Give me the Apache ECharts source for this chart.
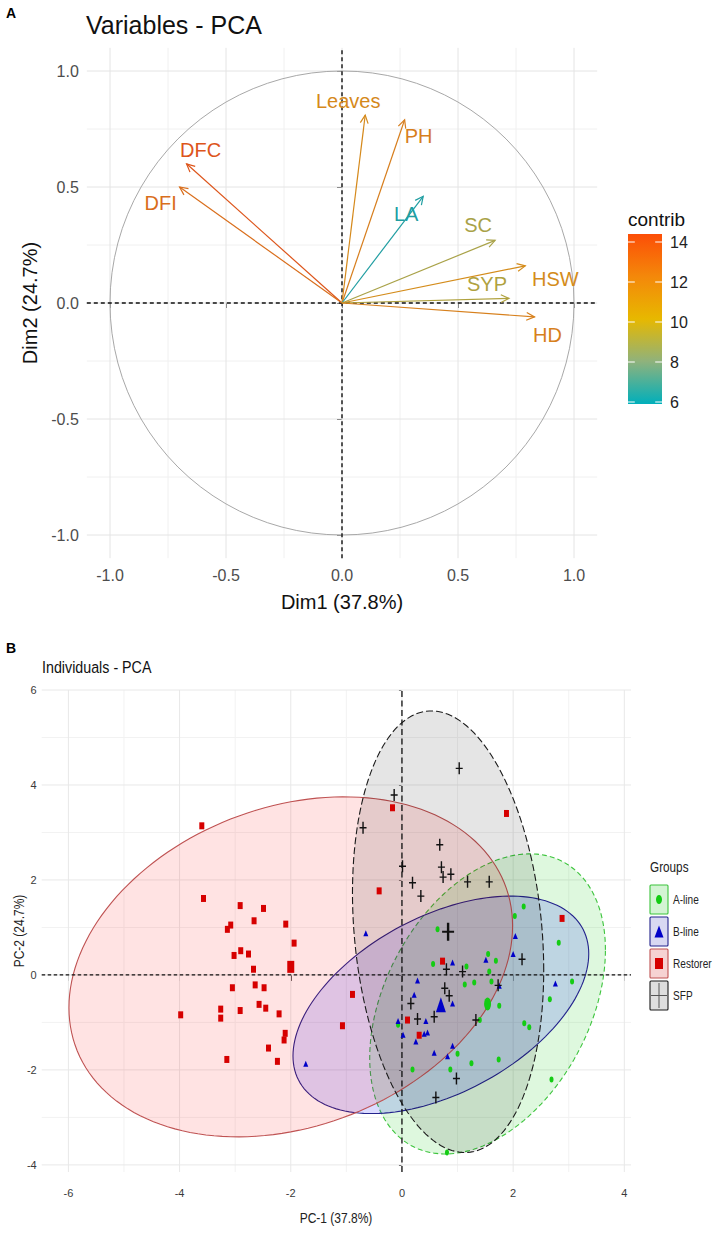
<!DOCTYPE html>
<html>
<head>
<meta charset="utf-8">
<script src="https://cdn.jsdelivr.net/npm/echarts@6/dist/echarts.min.js"></script>
<style>
html,body{margin:0;padding:0;background:#fff;}
#c{width:727px;height:1239px;}
</style>
</head>
<body>
<div id="c"></div>
<script>
// ---------------- DATA ----------------
// Panel A: variables
const varNames   = ['DFC', 'DFI', 'Leaves', 'PH', 'LA', 'SC', 'HSW', 'SYP', 'HD'];
const varDim1    = [-0.67, -0.70, 0.10, 0.27, 0.35, 0.66, 0.79, 0.72, 0.83];
const varDim2    = [0.60, 0.50, 0.81, 0.79, 0.46, 0.27, 0.16, 0.02, -0.06];
const varContrib = [14.4, 13.2, 11.8, 12.4, 5.9, 9.0, 11.6, 9.2, 12.3];
const dimTicks   = [-1, -0.5, 0, 0.5, 1];
const dimMinor   = [-0.75, -0.25, 0.25, 0.75];
const contribTicks = [6, 8, 10, 12, 14];

// Panel B: individuals
const groupNames = ['A-line', 'B-line', 'Restorer', 'SFP'];
const aLineX = [2.19, 2.03, 0.64, 2.82, 1.55, 1.69, 0.56, 1.16, 1.57, 1.13, 1.30, 1.61, 3.06, 1.75, 2.66, 2.20, 2.29, -0.07, 1.40, 1.00, 1.25, 1.74, 0.19, 0.87, 2.69, 0.81];
const aLineY = [1.44, 1.24, 0.96, 0.68, 0.44, 0.30, 0.23, 0.18, 0.07, -0.20, -0.16, -0.14, -0.14, -0.65, -0.51, -1.02, -1.10, -1.05, -0.95, -1.66, -1.86, -1.78, -1.99, -1.99, -2.20, -3.74];
const bLineX = [-0.65, 2.04, 2.00, 0.91, 1.51, 0.28, 0.22, 1.75, 2.76, 0.91, 0.43, -0.07, 0.02, 0.40, 0.46, 0.25, 0.91, 0.58, 0.82, -1.73];
const bLineY = [0.88, 0.82, 0.44, 0.26, 0.32, -0.12, -0.42, -0.23, -0.18, -0.60, -0.97, -0.97, -1.26, -1.24, -1.21, -1.40, -1.49, -1.64, -1.71, -1.87];
const restorerX = [-3.60, -3.57, -2.91, -2.49, -2.66, -3.08, -3.14, -2.09, -1.94, -2.90, -3.02, -2.76, -2.67, -3.05, -2.64, -2.48, -2.57, -2.45, -2.91, -3.26, -3.26, -3.98, -2.21, -2.10, -2.12, -2.40, -3.15, -2.24, -0.89, -1.07, -0.41, -0.17, 1.88, 2.88, 0.73, 0.10, 0.31];
const restorerY = [3.14, 1.61, 1.46, 1.40, 1.14, 1.05, 0.96, 1.07, 0.67, 0.51, 0.41, 0.44, 0.12, -0.27, -0.21, -0.27, -0.62, -0.70, -0.75, -0.72, -0.91, -0.84, -0.82, -1.23, -1.37, -1.54, -1.78, -1.82, -0.41, -1.07, 1.77, 3.52, 3.40, 1.19, 0.29, -0.95, -1.27];
const sfpX = [1.03, -0.14, -0.70, 0.68, 0.01, 0.71, 0.74, 0.88, 0.19, 0.34, 1.18, 1.57, 0.80, 1.09, 1.73, 0.77, 0.85, 0.16, 0.58, 0.28, 1.33, 2.16, 0.98, 0.61];
const sfpY = [4.35, 3.79, 3.10, 2.74, 2.29, 2.27, 2.06, 2.12, 1.94, 1.66, 1.96, 1.96, 0.12, 0.07, -0.22, -0.28, -0.44, -0.60, -0.88, -0.93, -0.95, 0.33, -2.18, -2.58];
const groupMeanX = [1.54, 0.70, -2.00, 0.83];
const groupMeanY = [-0.61, -0.63, 0.17, 0.91];
const ellipseSdX = [2.12, 2.66, 3.99, 1.72];
const ellipseSdY = [3.16, 2.29, 3.58, 4.65];
const ellipseCor = [0.36, 0.47, 0.24, -0.175];
const pcXTicks = [-6, -4, -2, 0, 2, 4];
const pcXMinor = [-5, -3, -1, 1, 3];
const pcYTicks = [-4, -2, 0, 2, 4, 6];
const pcYMinor = [-3, -1, 1, 3, 5];

// ---------------- STYLE ----------------
const FONT = "'Liberation Sans', Arial, Helvetica, sans-serif";
const NARROW = "'Liberation Sans Narrow', 'Arial Narrow', 'Liberation Sans', sans-serif";
const contribColors = ['#00AFBB', '#8FB27C', '#E7B800', '#F4880A', '#FC4E07'];
const arrowMute = '#7F6A55';
const labelNudge = { DFC: [14, -14], DFI: [-19, 16], Leaves: [-17, -14], PH: [14, 16], LA: [-17, 18],
                     SC: [-17, -15], HSW: [30, 13], SYP: [-22, -14], HD: [13, 18] };
const groupX = [aLineX, bLineX, restorerX, sfpX];
const groupY = [aLineY, bLineY, restorerY, sfpY];
const ellFill = ['rgba(0,200,0,0.13)', 'rgba(0,0,255,0.14)', 'rgba(255,0,0,0.11)', 'rgba(0,0,0,0.10)'];
const ellStroke = ['#3DC43D', '#23238C', '#BF5252', '#1A1A1A'];
const ellDash = [[5, 3], null, null, [7, 3]];
const ptColor = ['#14CC14', '#0000C8', '#D60000', '#111111'];
const ELLIPSE_PATH = 'path://M1,0A1,1 0 1,1 -1,0A1,1 0 1,1 1,0Z';
const PLUS_PATH = 'path://M-0.2,-1H0.2V-0.12H1V0.12H0.2V1H-0.2V0.12H-1V-0.12H-0.2Z';
const ptSymbol = [ELLIPSE_PATH, 'triangle', 'rect', PLUS_PATH];
const ptSize = [[4, 6], [5, 6], [5, 7], [7, 12]];
const meanSize = [[7, 13], [10, 15], [7, 12], [12, 18]];
const SQ = 0.84; // horizontal condensing of panel B text

const A_X = [-1.1, 1.1], A_Y = [-1.1, 1.1];
const B_X = [-6.48, 4.12], B_Y = [-4.15, 6.0];
const cMin = Math.min.apply(null, varContrib), cMax = Math.max.apply(null, varContrib);

// ---------------- HELPERS ----------------
function vLines(ai, vals, yr, color, w, dash, z) {
  return { type: 'custom', xAxisIndex: ai, yAxisIndex: ai, z: z, silent: true, animation: false,
    data: vals.map(v => [v, yr[0]]),
    renderItem: (p, api) => {
      const a = api.coord([api.value(0), yr[0]]), b = api.coord([api.value(0), yr[1]]);
      return { type: 'line', shape: { x1: a[0], y1: a[1], x2: b[0], y2: b[1] },
        style: { stroke: color, lineWidth: w, lineDash: dash || null } };
    } };
}
function hLines(ai, vals, xr, color, w, dash, z) {
  return { type: 'custom', xAxisIndex: ai, yAxisIndex: ai, z: z, silent: true, animation: false,
    data: vals.map(v => [xr[0], v]),
    renderItem: (p, api) => {
      const a = api.coord([xr[0], api.value(1)]), b = api.coord([xr[1], api.value(1)]);
      return { type: 'line', shape: { x1: a[0], y1: a[1], x2: b[0], y2: b[1] },
        style: { stroke: color, lineWidth: w, lineDash: dash || null } };
    } };
}

const series = [];
// Panel A grid
series.push(vLines(0, dimMinor, A_Y, '#F0F0F0', 1, null, 1));
series.push(hLines(0, dimMinor, A_X, '#F0F0F0', 1, null, 1));
series.push(vLines(0, dimTicks, A_Y, '#E4E4E4', 1, null, 1));
series.push(hLines(0, dimTicks, A_X, '#E4E4E4', 1, null, 1));
// Correlation circle
series.push({ type: 'custom', xAxisIndex: 0, yAxisIndex: 0, z: 2, silent: true, animation: false,
  data: [[0, 0]],
  renderItem: (p, api) => {
    const c = api.coord([0, 0]), e = api.coord([1, 0]);
    return { type: 'circle', shape: { cx: c[0], cy: c[1], r: e[0] - c[0] },
      style: { stroke: '#A8A8A8', fill: 'none', lineWidth: 1 } };
  } });
series.push(vLines(0, [0], A_Y, '#111', 1.4, [4, 3], 3));
series.push(hLines(0, [0], A_X, '#111', 1.4, [4, 3], 3));
// Arrows
const ARROW_IDX = series.length;
series.push({ type: 'custom', xAxisIndex: 0, yAxisIndex: 0, z: 4, silent: true, animation: false,
  encode: { x: 0, y: 1 },
  data: varDim1.map((x, i) => [x, varDim2[i], varContrib[i]]),
  renderItem: (p, api) => {
    const o = api.coord([0, 0]), t = api.coord([api.value(0), api.value(1)]);
    const color = echarts.color.lerp(0.25, [api.visual('color'), arrowMute]);
    const ang = Math.atan2(t[1] - o[1], t[0] - o[0]);
    const L = 9, h = Math.PI / 7;
    const h1 = [t[0] - L * Math.cos(ang - h), t[1] - L * Math.sin(ang - h)];
    const h2 = [t[0] - L * Math.cos(ang + h), t[1] - L * Math.sin(ang + h)];
    const name = varNames[p.dataIndex];
    const off = labelNudge[name];
    return { type: 'group', children: [
      { type: 'line', shape: { x1: o[0], y1: o[1], x2: t[0], y2: t[1] }, style: { stroke: color, lineWidth: 1.2 } },
      { type: 'polyline', shape: { points: [h1, t, h2] }, style: { stroke: color, lineWidth: 1.2, fill: 'none' } },
      { type: 'text', x: t[0] + off[0], y: t[1] + off[1],
        style: { text: name, fill: color, fontSize: 20, fontFamily: FONT, align: 'center', verticalAlign: 'middle' } }
    ] };
  } });

// Panel B grid
series.push(vLines(1, pcXMinor, B_Y, '#F2F2F2', 1, null, 1));
series.push(hLines(1, pcYMinor, B_X, '#F2F2F2', 1, null, 1));
series.push(vLines(1, pcXTicks, B_Y, '#E8E8E8', 1, null, 1));
series.push(hLines(1, pcYTicks, B_X, '#E8E8E8', 1, null, 1));
// Ellipses
groupNames.forEach((g, gi) => {
  series.push({ type: 'custom', name: g, xAxisIndex: 1, yAxisIndex: 1, z: 2, silent: true, animation: false,
    data: [[groupMeanX[gi], groupMeanY[gi]]],
    renderItem: (p, api) => {
      const cx = groupMeanX[gi], cy = groupMeanY[gi];
      const sx = ellipseSdX[gi], sy = ellipseSdY[gi], r = ellipseCor[gi];
      const pts = [];
      for (let k = 0; k <= 160; k++) {
        const t = k / 160 * Math.PI * 2;
        const dx = sx * Math.cos(t);
        const dy = sy * (r * Math.cos(t) + Math.sqrt(1 - r * r) * Math.sin(t));
        pts.push(api.coord([cx + dx, cy + dy]));
      }
      return { type: 'polygon', shape: { points: pts },
        style: { fill: ellFill[gi], stroke: ellStroke[gi], lineWidth: 1.1, lineDash: ellDash[gi] } };
    } });
});
series.push(vLines(1, [0], B_Y, '#111', 1.3, [6, 3.5], 3));
series.push(hLines(1, [0], B_X, '#111', 1.3, [3.5, 2.5], 3));
// Points
groupNames.forEach((g, gi) => {
  series.push({ type: 'scatter', name: g, xAxisIndex: 1, yAxisIndex: 1, z: 4, silent: true, animation: false,
    symbol: ptSymbol[gi], symbolSize: ptSize[gi],
    itemStyle: { color: ptColor[gi], opacity: 1 },
    data: groupX[gi].map((x, i) => [x, groupY[gi][i]]) });
});
groupNames.forEach((g, gi) => {
  series.push({ type: 'scatter', name: g + ' mean', xAxisIndex: 1, yAxisIndex: 1, z: 5, silent: true, animation: false,
    symbol: ptSymbol[gi], symbolSize: meanSize[gi],
    itemStyle: { color: ptColor[gi], opacity: 1 },
    data: [[groupMeanX[gi], groupMeanY[gi]]] });
});

// Colorbar (contrib)
series.push({ type: 'custom', xAxisIndex: 2, yAxisIndex: 2, z: 2, silent: true, animation: false,
  data: [[0, cMin]],
  renderItem: (p, api) => {
    const a = api.coord([0, cMax]), b = api.coord([1, cMin]);
    const stops = contribColors.map((c, i) => ({ offset: i / (contribColors.length - 1), color: c }));
    const kids = [{ type: 'rect', shape: { x: a[0], y: a[1], width: b[0] - a[0], height: b[1] - a[1] },
      style: { fill: new echarts.graphic.LinearGradient(0, 1, 0, 0, stops) } }];
    const tl = (b[0] - a[0]) / 5;
    contribTicks.forEach(v => {
      const y = api.coord([0, v])[1];
      kids.push({ type: 'line', shape: { x1: a[0], y1: y, x2: a[0] + tl, y2: y }, style: { stroke: '#fff', lineWidth: 1 } });
      kids.push({ type: 'line', shape: { x1: b[0] - tl, y1: y, x2: b[0], y2: y }, style: { stroke: '#fff', lineWidth: 1 } });
    });
    return { type: 'group', children: kids };
  } });

// ---------------- AXES ----------------
function axisCommon(ticks, fmt, fontSize, fam, margin, tickLen, color) {
  return {
    axisLine: { show: false },
    axisTick: { show: true, customValues: ticks, length: tickLen, lineStyle: { color: '#333', width: 1 } },
    axisLabel: { show: true, customValues: ticks, formatter: fmt, fontSize: fontSize, fontFamily: fam, color: color, margin: margin },
    splitLine: { show: false }, minorSplitLine: { show: false }
  };
}
const fmt1 = v => Number(v).toFixed(1);
const fmt0 = v => String(Math.round(v));

const option = {
  backgroundColor: '#ffffff',
  animation: false,
  grid: [
    { left: 86.8, top: 47.8, width: 510.4, height: 510.4, containLabel: false, outerBoundsMode: 'none' },
    { left: 41.7, top: 690, width: 589.3, height: 482, containLabel: false, outerBoundsMode: 'none' },
    { left: 628, top: 234, width: 34, height: 170, containLabel: false, outerBoundsMode: 'none' }
  ],
  xAxis: [
    Object.assign({ type: 'value', gridIndex: 0, min: A_X[0], max: A_X[1],
      name: 'Dim1 (37.8%)', nameLocation: 'middle', nameGap: 34,
      nameTextStyle: { fontSize: 20, fontFamily: FONT, color: '#111' } }, axisCommon(dimTicks, fmt1, 16, FONT, 9, 5, '#4D4D4D')),
    Object.assign({ type: 'value', gridIndex: 1, min: B_X[0], max: B_X[1] },
      axisCommon(pcXTicks, fmt0, 11, NARROW, 15, 6, '#3A3A3A')),
    { type: 'value', gridIndex: 2, min: 0, max: 1, show: false }
  ],
  yAxis: [
    Object.assign({ type: 'value', gridIndex: 0, min: A_Y[0], max: A_Y[1],
      name: 'Dim2 (24.7%)', nameLocation: 'middle', nameGap: 45,
      nameTextStyle: { fontSize: 20, fontFamily: FONT, color: '#111' } }, axisCommon(dimTicks, fmt1, 16, FONT, 8, 5, '#4D4D4D')),
    Object.assign({ type: 'value', gridIndex: 1, min: B_Y[0], max: B_Y[1] },
      axisCommon(pcYTicks, fmt0, 11, NARROW, 5, 3, '#3A3A3A')),
    { type: 'value', gridIndex: 2, min: cMin, max: cMax, position: 'right',
      axisLine: { show: false }, axisTick: { show: false }, splitLine: { show: false },
      axisLabel: { show: true, customValues: contribTicks, fontSize: 16, fontFamily: FONT, color: '#222', margin: 8 } }
  ],
  visualMap: [{ type: 'continuous', show: false, seriesIndex: ARROW_IDX, dimension: 2,
    min: cMin, max: cMax, inRange: { color: contribColors } }],
  graphic: [
    { type: 'text', left: 6, top: 6, style: { text: 'A', fontSize: 14, fontWeight: 'bold', fontFamily: FONT, fill: '#000' } },
    { type: 'text', x: 86, y: 25, style: { text: 'Variables - PCA', fontSize: 25, fontFamily: FONT, fill: '#111', verticalAlign: 'middle' } },
    { type: 'text', x: 628, y: 219, style: { text: 'contrib', fontSize: 19, fontFamily: FONT, fill: '#111', verticalAlign: 'middle' } },
    { type: 'text', left: 6, top: 641, style: { text: 'B', fontSize: 14, fontWeight: 'bold', fontFamily: FONT, fill: '#000' } },
    { type: 'text', x: 42, y: 667, scaleX: SQ, style: { text: 'Individuals - PCA', fontSize: 17, fontFamily: NARROW, fill: '#111', verticalAlign: 'middle' } },
    { type: 'text', x: 336, y: 1218, scaleX: 0.8, style: { text: 'PC-1 (37.8%)', fontSize: 15, fontFamily: NARROW, fill: '#222', align: 'center', verticalAlign: 'middle' } },
    { type: 'text', x: 19, y: 931, rotation: Math.PI / 2, scaleX: 0.8, style: { text: 'PC-2 (24.7%)', fontSize: 15, fontFamily: NARROW, fill: '#222', align: 'center', verticalAlign: 'middle' } },
    { type: 'text', x: 650, y: 867, scaleX: SQ, style: { text: 'Groups', fontSize: 14, fontFamily: NARROW, fill: '#222', verticalAlign: 'middle' } }
  ],
  series: series
};

// Legend for groups (panel B)
const keyTop = [885, 917, 949, 981];
const keyFill = ['#D3F4D3', '#D8D8F2', '#F6D2D2', '#DEDEDE'];
groupNames.forEach((g, gi) => {
  const x = 650, y = keyTop[gi], w = 18, h = 29, cx = x + w / 2, cy = y + h / 2;
  option.graphic.push({ type: 'rect', shape: { x: x, y: y, width: w, height: h, r: 1 },
    style: { fill: keyFill[gi], stroke: ellStroke[gi], lineWidth: 1.1 } });
  let sym;
  if (gi === 0) sym = { type: 'ellipse', shape: { cx: cx, cy: cy, rx: 3, ry: 4.5 }, style: { fill: ptColor[0] } };
  else if (gi === 1) sym = { type: 'polygon', shape: { points: [[cx, cy - 6], [cx + 4.5, cy + 6], [cx - 4.5, cy + 6]] }, style: { fill: ptColor[1] } };
  else if (gi === 2) sym = { type: 'rect', shape: { x: cx - 4, y: cy - 5.5, width: 8, height: 11 }, style: { fill: ptColor[2] } };
  else sym = { type: 'group', children: [
    { type: 'line', shape: { x1: x + 1, y1: cy, x2: x + w - 1, y2: cy }, style: { stroke: '#555', lineWidth: 1 } },
    { type: 'line', shape: { x1: cx, y1: y + 2, x2: cx, y2: y + h - 2 }, style: { stroke: '#555', lineWidth: 1 } }] };
  option.graphic.push(sym);
  option.graphic.push({ type: 'text', x: 673, y: cy, scaleX: SQ, style: { text: g, fontSize: 12, fontFamily: NARROW, fill: '#222', verticalAlign: 'middle' } });
});

const chart = echarts.init(document.getElementById('c'), null, { renderer: 'svg', width: 727, height: 1239 });
chart.setOption(option);
</script>
</body>
</html>
